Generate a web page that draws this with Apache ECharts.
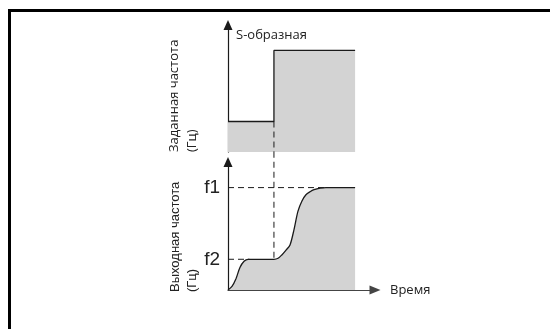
<!DOCTYPE html>
<html>
<head>
<meta charset="utf-8">
<script src="https://cdn.jsdelivr.net/npm/echarts@6/dist/echarts.min.js"></script>
<style>
  html, body { margin: 0; padding: 0; background: #fff; }
  #chart { width: 551px; height: 329px; }
</style>
</head>
<body>
<div id="chart"></div>
<script>
// время в условных единицах, частота в долях f1
var setTime = [0, 3, 3, 8.3]
var setFreq = [0.3, 0.3, 1.0, 1.0]
var outTime = [0, 0.26, 0.52, 0.78, 1.05, 1.31, 3.0, 3.27, 3.53, 3.79, 4.05, 4.31, 4.57, 4.83, 5.09, 5.36, 5.62, 6.01, 6.4, 8.3]
var outFreq = [0, 0.035, 0.11, 0.22, 0.28, 0.3, 0.3, 0.31, 0.345, 0.39, 0.44, 0.59, 0.77, 0.87, 0.93, 0.96, 0.98, 0.995, 1.0, 1.0]
var tickValues = [0.3, 1.0]
var tickLabels = ['f2', 'f1']
var stepTime = 3
var f2Reach = 1.4
var f1Reach = 6.4

function pairs (xs, ys) {
  return xs.map(function (x, i) { return [x, ys[i]] })
}

var ink = '#1a1a1a'
var fillGray = '#d3d3d3'
var sansMyriad = '"Open Sans", "Noto Sans", sans-serif'
var sansArial = '"Liberation Sans", Arial, sans-serif'

function dashed (gridIdx, pts) {
  return {
    type: 'line',
    xAxisIndex: gridIdx,
    yAxisIndex: gridIdx,
    data: pts,
    symbol: 'none',
    clip: false,
    silent: true,
    z: 4,
    lineStyle: { color: ink, width: 1, type: [6, 4] }
  }
}

function vText (x, y, text, family) {
  return {
    type: 'text', x: x, y: y, rotation: Math.PI / 2, silent: true,
    style: { text: text, font: '13px ' + family, fill: '#222', align: 'left', verticalAlign: 'middle', textAlign: 'left', textVerticalAlign: 'middle' }
  }
}

var chart = echarts.init(document.getElementById('chart'), null, { renderer: 'canvas' })
var option = {
  animation: false,
  backgroundColor: '#fff',
  grid: [
    { left: 228, top: 25, width: 147, height: 127, outerBoundsMode: 'none' },
    { left: 228, top: 162, width: 147, height: 128, outerBoundsMode: 'none' }
  ],
  xAxis: [
    { gridIndex: 0, type: 'value', min: 0, max: 9.6, show: false },
    {
      gridIndex: 1,
      type: 'value',
      min: 0,
      max: 9.6,
      splitLine: { show: false },
      axisTick: { show: false },
      axisLabel: { show: false },
      axisLine: {
        show: true,
        symbol: ['none', 'triangle'],
        symbolSize: [9, 11],
        lineStyle: { color: '#444', width: 1.2 }
      },
      name: 'Время',
      nameLocation: 'end',
      nameGap: 15,
      nameTextStyle: {
        fontFamily: sansMyriad,
        fontSize: 13,
        color: '#222',
        align: 'left',
        verticalAlign: 'middle',
        padding: [0, 0, 8, 0]
      }
    }
  ],
  yAxis: [
    {
      gridIndex: 0,
      type: 'value',
      min: 0,
      max: 1.25,
      splitLine: { show: false },
      axisTick: { show: false },
      axisLabel: { show: false },
      axisLine: {
        show: true,
        symbol: ['none', 'triangle'],
        symbolSize: [9, 10],
        lineStyle: { color: ink, width: 1.2 }
      }
    },
    {
      gridIndex: 1,
      type: 'value',
      min: 0,
      max: 1.25,
      splitLine: { show: false },
      axisTick: { show: false },
      axisLine: {
        show: true,
        symbol: ['none', 'triangle'],
        symbolSize: [9, 10],
        lineStyle: { color: ink, width: 1.2 }
      },
      axisLabel: {
        customValues: tickValues,
        margin: 8,
        fontFamily: sansArial,
        fontSize: 19,
        color: '#222',
        formatter: function (v) {
          var i = tickValues.indexOf(v)
          return i >= 0 ? tickLabels[i] : ''
        }
      }
    }
  ],
  graphic: [
    {
      type: 'polyline',
      silent: true,
      shape: { points: [[9.5, 329], [9.5, 10.5], [550, 10.5]] },
      style: { stroke: '#000', lineWidth: 3, fill: null }
    },
    {
      type: 'text', x: 236, y: 35, silent: true,
      style: { text: 'S-образная', font: '13px ' + sansMyriad, fill: '#222', align: 'left', verticalAlign: 'middle', textAlign: 'left', textVerticalAlign: 'middle' }
    },
    vText(174, 152, 'Заданная частота', sansMyriad),
    vText(192.5, 152, '(Гц)', sansMyriad),
    vText(175, 292, 'Выходная частота', sansArial),
    vText(192.5, 292, '(Гц)', sansArial)
  ],
  series: [
    {
      type: 'line',
      xAxisIndex: 0,
      yAxisIndex: 0,
      data: pairs(setTime, setFreq),
      symbol: 'none',
      silent: true,
      z: 2,
      lineStyle: { color: ink, width: 1.3 },
      areaStyle: { color: fillGray, opacity: 1 }
    },
    {
      type: 'line',
      xAxisIndex: 1,
      yAxisIndex: 1,
      data: pairs(outTime, outFreq),
      symbol: 'none',
      silent: true,
      smooth: 0.3,
      z: 2,
      lineStyle: { color: ink, width: 1.3 },
      areaStyle: { color: fillGray, opacity: 1 }
    },
    dashed(0, [[stepTime, setFreq[0]], [stepTime, 0]]),
    dashed(1, [[stepTime, 1.35], [stepTime, tickValues[0]]]),
    dashed(1, [[0, tickValues[1]], [f1Reach, tickValues[1]]]),
    dashed(1, [[0, tickValues[0]], [f2Reach, tickValues[0]]])
  ]
}
chart.setOption(option)
</script>
</body>
</html>
